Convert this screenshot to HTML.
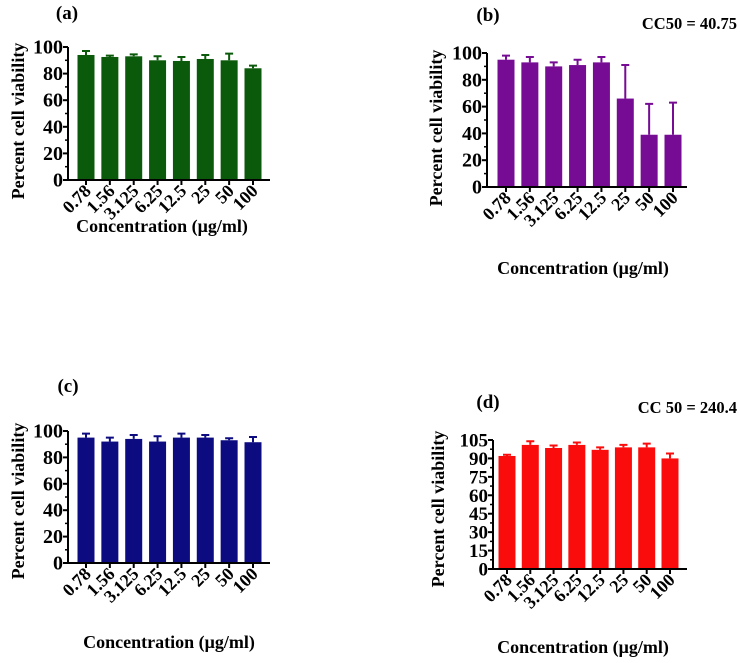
<!DOCTYPE html>
<html><head><meta charset="utf-8">
<style>
body{margin:0;background:#fff;}
svg text{font-family:"Liberation Serif",serif;font-weight:bold;fill:#000;}
</style></head>
<body>
<svg id="fig" width="740" height="658" viewBox="0 0 740 658" xmlns="http://www.w3.org/2000/svg"></svg>
<script>
const categories = ["0.78","1.56","3.125","6.25","12.5","25","50","100"];
const valuesA = [94, 92.5, 93, 90, 89.5, 91, 90, 84];
const errorsA = [3, 1, 1.5, 3, 3, 3, 5, 2];
const valuesB = [95, 93, 90, 91, 93, 66, 39, 39];
const errorsB = [3, 4, 3, 4, 4, 25, 23, 24];
const valuesC = [95, 92, 94, 92, 95, 95, 93, 91.5];
const errorsC = [3, 3, 3, 4, 3, 2, 1.5, 4];
const valuesD = [92, 101, 98.5, 101, 97, 99, 99, 90];
const errorsD = [1, 3, 2, 2, 2, 2, 3, 4];
const ticksA = [0,20,40,60,80,100];
const ticksD = [0,15,30,45,60,75,90,105];

const NS="http://www.w3.org/2000/svg";
const svg=document.getElementById('fig');
function mk(tag,attrs,parent){const e=document.createElementNS(NS,tag);for(const k in attrs)e.setAttribute(k,attrs[k]);(parent||svg).appendChild(e);return e;}

function panel(cfg){
  const g=mk('g',{});
  
  
  const yMax=cfg.ticks[cfg.ticks.length-1];
  const y=v=>cfg.y0-(v/yMax)*(cfg.y0-cfg.yTop);
  const step=(cfg.lastX-cfg.firstX)/(categories.length-1);
  const x=i=>cfg.firstX+i*step;
  const bw=17;
  categories.forEach((c,i)=>{
    const v=cfg.values[i],e=cfg.errors[i];
    const r=mk('rect',{x:x(i)-bw/2,y:y(v),width:bw,height:cfg.y0-y(v),fill:cfg.color},g);
    
    
    const eb=mk('path',{d:`M${x(i)} ${y(v)}V${y(v+e)}M${x(i)-4} ${y(v+e)}H${x(i)+4}`,stroke:cfg.color,'stroke-width':2,fill:'none'},g);
    
    
    mk('line',{x1:x(i),x2:x(i),y1:cfg.y0,y2:cfg.y0+5,stroke:'#000','stroke-width':2},g);
    const t=mk('text',{x:0,y:0,'font-size':18,'text-anchor':'end',transform:`translate(${x(i)+6},${cfg.y0+12}) rotate(-45)`},g);
    t.textContent=c;
    
    
  });
  mk('line',{x1:cfg.ax,x2:cfg.ax,y1:cfg.yTop,y2:cfg.y0+1,stroke:'#000','stroke-width':2},g);
  mk('line',{x1:cfg.ax-1,x2:cfg.axEnd,y1:cfg.y0,y2:cfg.y0,stroke:'#000','stroke-width':2},g);
  cfg.ticks.forEach((tv,k)=>{
    mk('line',{x1:cfg.ax-5,x2:cfg.ax,y1:y(tv),y2:y(tv),stroke:'#000','stroke-width':2},g);
    if(k<cfg.ticks.length-1){const m=(tv+cfg.ticks[k+1])/2;mk('line',{x1:cfg.ax-3,x2:cfg.ax,y1:y(m),y2:y(m),stroke:'#000','stroke-width':1.5},g);}
    const t=mk('text',{x:cfg.ax-5,y:y(tv)+6.5,'font-size':cfg.tickFs,'text-anchor':'end'},g);
    t.textContent=tv;
    
    
  });
  const yt=mk('text',{x:0,y:0,'font-size':18,'text-anchor':'middle',transform:`translate(${cfg.ytX},${cfg.ytY}) rotate(-90)`},g);
  yt.textContent='Percent  cell viability';
  
  
  const xt=mk('text',{x:cfg.xtX,y:cfg.xtY,'font-size':18,'text-anchor':'middle'},g);
  xt.textContent='Concentration (\u03bcg/ml)';
  
  
  const lb=mk('text',{x:cfg.lbX,y:cfg.lbY,'font-size':19,'text-anchor':'middle'},g);
  lb.textContent=cfg.label;
  
  
  if(cfg.cc){
    const cc=mk('text',{x:cfg.ccX,y:cfg.ccY,'font-size':16.5,'text-anchor':'end'},g);
    cc.textContent=cfg.cc;
    
    
  }
}

panel({name:'panel-a',color:'#0b5a0b',values:valuesA,errors:errorsA,ticks:ticksA,tickFs:20,ax:68,axEnd:270,y0:180,yTop:47,firstX:86,lastX:253,ytX:24,ytY:121,xtX:162,xtY:232,lbX:67,lbY:19,label:'(a)'});
panel({name:'panel-b',color:'#760b94',values:valuesB,errors:errorsB,ticks:ticksA,tickFs:20,ax:487,axEnd:687,y0:187,yTop:53,firstX:506,lastX:673,ytX:442,ytY:128,xtX:583,xtY:274,lbX:488,lbY:21,label:'(b)',cc:'CC50 = 40.75',ccX:737,ccY:29});
panel({name:'panel-c',color:'#0c0c80',values:valuesC,errors:errorsC,ticks:ticksA,tickFs:20,ax:68,axEnd:270,y0:563,yTop:431,firstX:86,lastX:253,ytX:24,ytY:501,xtX:169,xtY:648,lbX:68,lbY:392,label:'(c)'});
panel({name:'panel-d',color:'#fb0c0c',values:valuesD,errors:errorsD,ticks:ticksD,tickFs:19,ax:493,axEnd:687,y0:569,yTop:440,firstX:507,lastX:670,ytX:444,ytY:509,xtX:583,xtY:653,lbX:488,lbY:408,label:'(d)',cc:'CC 50 = 240.4',ccX:737,ccY:413});
</script>
</body></html>
